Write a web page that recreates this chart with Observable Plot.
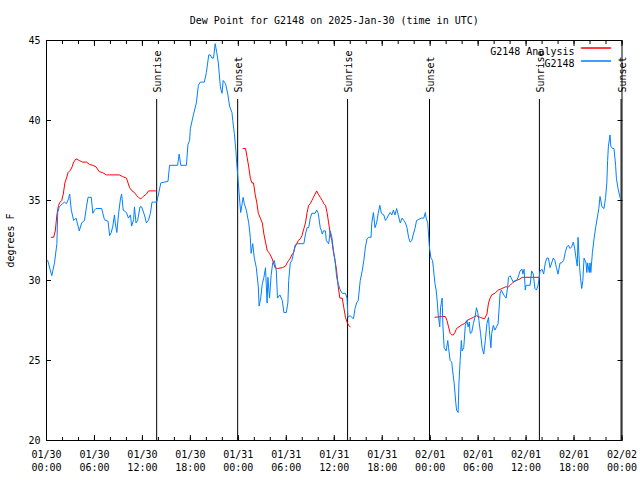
<!DOCTYPE html>
<html><head><meta charset="utf-8">
<script src="https://cdn.jsdelivr.net/npm/d3@7"></script>
<script src="https://cdn.jsdelivr.net/npm/@observablehq/plot@0.6"></script>
<style>body{margin:0;background:#fff} svg{display:block}</style>
</head><body><div id="chart"></div>
<script>
// ---- data (hours after 2025-01-30 00:00 UTC, dew point °F) ----
const title = "Dew Point for G2148 on 2025-Jan-30 (time in UTC)";
const yLabel = "degrees F";
const seriesNames = ["G2148 Analysis", "G2148"];
const seriesColors = ["#ff0000", "#0080ff"];
const yTicks = [20, 25, 30, 35, 40, 45];

const obsHours = [0.15,0.66,1.0,1.3,1.4,1.6,2.0,2.25,2.5,2.75,2.9,3.1,3.4,3.7,3.85,4.1,4.4,4.75,5.0,5.2,5.6,5.8,6.0,6.2,6.9,7.25,7.7,7.9,8.1,8.3,8.5,8.6,8.8,9.0,9.25,9.4,9.6,10.0,10.25,10.5,10.65,10.9,11.0,11.2,11.4,11.7,11.9,12.25,12.5,12.75,13.0,13.2,13.4,13.8,14.1,14.3,15.2,15.4,16.4,16.6,16.8,17.5,17.7,17.9,18.0,18.4,18.75,19.0,19.25,19.75,20.0,20.3,20.5,20.7,20.9,21.1,21.3,21.5,21.75,21.96,22.1,22.4,22.7,22.9,23.2,23.3,23.5,23.7,23.8,24.0,24.2,24.3,24.6,24.75,25.0,25.3,25.5,25.6,25.8,26.0,26.25,26.5,26.6,26.8,27.0,27.2,27.4,27.6,27.7,27.9,28.1,28.3,28.5,28.75,28.9,29.2,29.5,29.7,30.0,30.2,30.3,30.5,30.7,30.9,31.1,31.3,32.2,32.4,32.6,32.8,33.0,33.2,33.6,33.8,34.0,34.25,34.4,34.5,34.65,34.9,35.0,35.3,35.5,35.7,35.9,36.1,36.3,36.5,36.75,37.0,37.4,37.6,37.7,38.0,38.4,38.6,38.8,39.0,39.25,39.5,39.7,39.9,40.1,40.3,40.6,40.7,40.9,41.1,41.3,41.5,41.7,41.9,42.2,42.4,42.6,42.8,43.0,43.2,43.4,43.6,43.8,44.0,44.25,44.5,44.7,44.9,45.1,45.3,45.5,45.7,45.9,46.1,46.3,46.9,47.2,47.4,47.5,47.7,47.9,48.1,48.3,48.4,48.6,48.75,48.9,49.0,49.2,49.3,49.5,49.6,49.75,50.0,50.2,50.3,50.5,50.7,50.8,51.0,51.2,51.3,51.5,51.6,51.75,51.9,52.0,52.2,52.4,52.6,52.75,52.9,53.0,53.2,53.4,53.6,53.8,53.95,54.1,54.3,54.5,54.7,54.9,55.1,55.3,55.4,55.6,55.7,55.9,56.1,56.3,56.5,56.75,56.9,57.2,57.5,57.7,57.8,58.0,58.2,58.4,58.6,58.8,59.0,59.25,59.5,59.6,59.75,59.9,60.0,60.5,60.7,60.9,61.1,61.3,61.5,61.75,62.0,62.2,62.4,62.6,62.8,63.0,63.2,63.4,63.6,63.8,64.0,64.25,64.45,64.7,64.9,65.1,65.3,65.5,65.7,65.9,66.05,66.25,66.4,66.5,66.7,66.8,66.96,67.1,67.25,67.5,67.6,67.7,67.9,68.0,68.1,68.3,68.5,68.7,68.9,69.1,69.25,69.5,69.75,69.95,70.1,70.2,70.3,70.5,70.6,70.8,71.0,71.2,71.3,71.5,71.75,71.9];
const obsValues = [31.25,30.3,31.1,32.3,34.25,34.6,34.8,34.9,34.8,35.1,35.4,34.4,33.75,33.9,33.6,33.1,33.6,33.75,34.6,35.2,35.2,34.2,34.4,34.5,34.5,33.8,33.7,32.8,33.0,33.4,34.1,33.6,33.0,34.1,35.1,35.4,34.4,34.25,33.9,34.1,33.4,33.8,34.6,33.6,33.75,34.6,34.6,34.1,33.6,33.75,34.2,34.9,34.9,34.9,35.6,36.1,36.2,37.2,37.2,37.9,37.2,37.2,38.5,38.75,39.5,40.4,41.1,42.2,42.4,42.4,43.0,44.1,44.1,43.9,43.9,44.8,44.25,43.6,42.1,41.7,42.5,42.3,41.6,40.9,40.5,40.0,39.2,38.1,37.3,36.1,34.8,34.25,35.2,34.8,34.4,33.6,32.7,31.7,32.3,31.4,30.8,29.6,28.4,28.9,29.8,30.2,30.8,28.6,30.2,28.9,30.3,31.1,31.25,30.6,28.9,29.1,28.75,28.0,28.0,28.6,30.0,31.1,31.25,31.7,32.2,32.3,32.3,32.9,33.3,33.3,33.9,34.2,34.2,34.4,34.2,33.3,33.1,32.9,33.1,33.1,32.5,32.3,33.1,32.7,31.9,31.25,30.2,29.8,29.4,29.2,29.2,28.9,27.7,27.8,27.6,28.25,28.6,28.75,30.0,30.6,31.25,32.1,32.6,32.7,32.7,33.6,34.25,33.3,33.6,34.2,34.7,34.2,34.1,33.75,33.9,34.1,34.25,34.1,34.4,34.1,34.5,34.1,33.6,33.9,33.75,33.6,33.3,32.7,32.4,32.5,32.9,33.25,33.75,33.9,33.9,34.25,33.9,33.6,32.1,31.4,31.25,30.8,29.8,29.4,28.6,27.9,27.1,28.3,28.9,27.1,25.8,25.6,26.25,25.8,25.0,24.9,24.4,23.6,22.4,21.9,21.75,23.6,25.0,26.25,25.6,25.8,27.2,27.5,27.1,27.4,26.7,26.75,27.3,27.7,28.3,28.0,27.5,26.7,25.8,25.4,26.25,27.3,27.7,26.9,25.8,26.7,27.2,26.9,27.1,27.3,29.2,29.4,29.1,28.9,29.6,30.2,30.3,30.1,29.9,30.0,30.0,30.2,30.6,30.7,30.4,30.7,29.4,29.7,29.7,30.6,30.4,29.5,29.4,29.7,30.6,30.7,30.4,31.1,31.4,31.4,30.8,31.1,31.4,31.25,30.8,30.4,31.1,31.1,31.25,31.75,32.1,32.2,32.0,32.1,32.4,32.1,31.4,30.9,32.7,30.8,30.2,29.5,30.0,31.4,31.1,30.5,31.1,30.5,31.1,30.5,31.75,32.6,33.3,33.9,34.5,35.25,34.6,34.5,35.2,36.1,37.5,38.4,39.1,38.4,38.25,38.25,37.2,36.4,35.75,35.2,35.0];

// analysis: null entries separate the nightly segments
const anaHours = [0.6,0.9,1.1,1.3,1.5,1.7,1.9,2.1,2.3,2.5,2.7,3.0,3.2,3.4,3.7,4.1,4.5,5.0,5.4,5.8,6.2,6.6,7.0,7.5,7.9,9.1,9.5,10.0,10.2,10.4,10.7,11.0,11.3,11.5,11.8,12.1,12.5,12.75,13.8,
  14.0,
  24.6,24.9,25.1,25.3,25.5,25.7,25.9,26.1,26.3,26.5,26.75,27.0,27.2,27.4,27.6,27.8,28.0,28.2,28.4,28.6,28.9,29.5,29.9,30.1,30.3,30.5,30.7,30.9,31.1,31.3,31.5,31.75,31.96,32.2,32.4,32.6,32.8,33.0,33.2,33.4,33.6,33.8,34.0,34.25,34.5,34.7,34.9,35.1,35.3,35.5,35.7,35.9,36.1,36.3,36.5,36.7,37.0,37.2,37.4,37.6,37.8,38.0,
  38.2,
  48.6,49.5,49.9,50.1,50.3,50.5,50.7,50.9,51.1,51.3,51.6,52.0,52.3,52.6,53.0,53.4,53.8,54.25,54.8,55.1,55.3,55.5,55.7,56.1,56.5,57.0,57.4,57.8,58.0,58.2,58.4,58.8,59.25,59.5,61.7];
const anaValues = [32.7,32.7,33.1,34.1,34.7,34.9,35.0,35.4,36.1,36.4,36.75,36.9,37.1,37.4,37.6,37.5,37.4,37.4,37.25,37.2,37.1,36.8,36.75,36.6,36.6,36.6,36.5,36.4,36.1,35.8,35.6,35.5,35.3,35.2,35.1,35.25,35.4,35.6,35.6,
  null,
  38.25,38.25,37.7,37.1,36.4,36.1,36.1,35.4,34.9,34.2,33.9,33.6,32.9,32.4,31.9,31.75,31.6,31.4,31.1,30.8,30.75,30.8,30.9,31.1,31.25,31.4,31.6,31.75,32.1,32.3,32.5,32.6,32.8,33.25,33.6,34.25,34.7,34.8,35.0,35.2,35.4,35.6,35.4,35.2,35.0,34.8,34.7,34.25,33.6,32.9,32.5,31.75,31.25,30.6,29.6,28.9,28.9,28.3,27.7,27.4,27.2,27.1,
  null,
  27.7,27.75,27.75,27.5,27.1,26.7,26.6,26.6,26.75,27.0,27.1,27.25,27.3,27.5,27.6,27.7,27.8,27.7,27.6,27.9,28.6,28.9,29.1,29.2,29.4,29.5,29.6,29.6,29.7,29.8,29.9,30.0,30.1,30.2,30.2];

const sunTimes = ["2025-01-30T13:47Z","2025-01-30T23:55Z","2025-01-31T13:40Z","2025-01-31T23:55Z","2025-02-01T13:40Z","2025-02-01T23:53Z"];
const sunLabels = ["Sunrise","Sunset","Sunrise","Sunset","Sunrise","Sunset"];

// ---- build ----
const base = Date.UTC(2025, 0, 30);
const t = h => new Date(base + h * 3600e3);
const obs = obsHours.map((h, i) => ({time: t(h), value: obsValues[i]}));
const ana = anaHours.map((h, i) => ({time: t(h), value: anaValues[i]}));
const sun = sunTimes.map((s, i) => ({time: new Date(s), label: sunLabels[i]}));
const fmtD = d3.utcFormat("%m/%d"), fmtT = d3.utcFormat("%H:%M");
const none = () => "";
const lineShape = {draw(ctx, l) { ctx.moveTo(0, 0); ctx.lineTo(0, -l); }};
const minor = d3.utcHour.every(2), major = d3.utcHour.every(6);

const chart = Plot.plot({
  width: 640, height: 480,
  marginLeft: 46, marginRight: 18.5, marginTop: 40, marginBottom: 40,
  style: {fontFamily: "DejaVu Sans Mono", fontSize: "10px", background: "white", color: "black"},
  x: {type: "utc", domain: [t(0), t(72)]},
  y: {domain: [20, 45]},
  marks: [
    Plot.ruleX(sun, {x: "time", insetTop: 59, stroke: "black"}),
    Plot.text(sun, {x: "time", text: "label", frameAnchor: "top", dy: 52, dx: 1.5, rotate: -90, textAnchor: "start", lineAnchor: "middle"}),
    Plot.line(ana, {x: "time", y: "value", stroke: seriesColors[0], strokeWidth: 1}),
    Plot.line(obs, {x: "time", y: "value", stroke: seriesColors[1], strokeWidth: 1}),
    Plot.frame({stroke: "black"}),
    // inward ticks
    Plot.axisX({anchor: "bottom", ticks: minor, tickSize: -3, tickFormat: none, label: null}),
    Plot.axisX({anchor: "bottom", ticks: major, tickSize: -5, tickFormat: none, label: null}),
    Plot.axisX({anchor: "top", ticks: minor, tickSize: -3, tickFormat: none, label: null}),
    Plot.axisX({anchor: "top", ticks: major, tickSize: -5, tickFormat: none, label: null}),
    Plot.axisX({anchor: "bottom", ticks: major, tickSize: 0, tickPadding: 8, lineHeight: 1.3,
      tickFormat: d => fmtD(d) + "\n" + fmtT(d), label: null}),
    Plot.axisY({anchor: "left", ticks: yTicks, tickSize: -5, tickFormat: none, label: null}),
    Plot.axisY({anchor: "right", ticks: yTicks, tickSize: -5, tickFormat: none, label: null}),
    Plot.axisY({anchor: "left", ticks: yTicks, tickSize: 0, tickPadding: 6, label: null}),
    // y label
    Plot.text([yLabel], {frameAnchor: "left", dx: -36, rotate: -90, textAnchor: "middle"}),
    // title
    Plot.text([title], {frameAnchor: "top", dy: -23.5}),
    // legend
    Plot.text([seriesNames[0]], {frameAnchor: "top-right", dx: -47.5, dy: 7, textAnchor: "end"}),
    Plot.text([seriesNames[1]], {frameAnchor: "top-right", dx: -47.5, dy: 19.5, textAnchor: "end"}),
    Plot.vector([0], {frameAnchor: "top-right", dx: -40.5, dy: 7.5, length: 29, rotate: 90, anchor: "start", shape: lineShape, stroke: seriesColors[0]}),
    Plot.vector([0], {frameAnchor: "top-right", dx: -40.5, dy: 20.5, length: 29, rotate: 90, anchor: "start", shape: lineShape, stroke: seriesColors[1]})
  ]
});
document.getElementById("chart").append(chart);
</script>
</body></html>
